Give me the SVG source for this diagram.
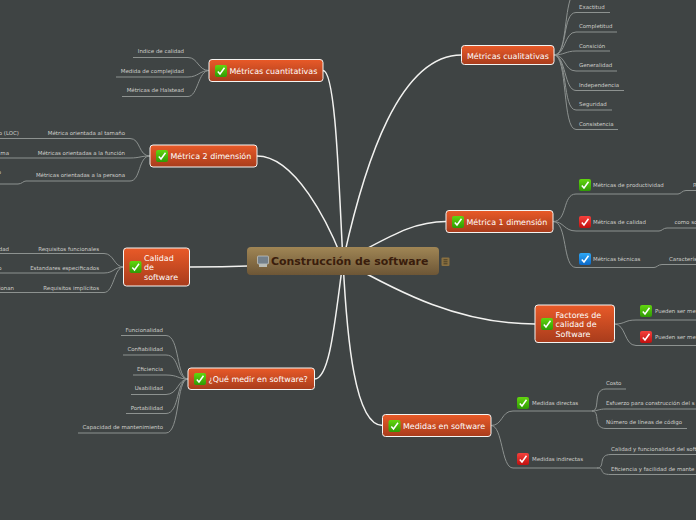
<svg xmlns="http://www.w3.org/2000/svg" xmlns:xlink="http://www.w3.org/1999/xlink" width="696" height="520" viewBox="0 0 696 520">
<style>
text{font-family:"DejaVu Sans",Verdana,sans-serif}
.n{fill:url(#og);stroke:#f4f4f2;stroke-width:1}
.t{font-size:7.950px;fill:#fff}
.l{font-size:5.450px;fill:#cfcfcb}
.e{text-anchor:end}
.main{fill:none;stroke:#f2f2f0;stroke-width:1.500}
.sub{fill:none;stroke:#8d9290;stroke-width:1}
</style>
<defs>
<linearGradient id="og" x1="0" y1="0" x2="0" y2="1"><stop offset="0" stop-color="#e95a28"/><stop offset="1" stop-color="#a83c1c"/></linearGradient>
<linearGradient id="br" x1="0" y1="0" x2="0" y2="1"><stop offset="0" stop-color="#a08655"/><stop offset="1" stop-color="#6d5636"/></linearGradient>
<linearGradient id="gg" x1="0" y1="0" x2="0" y2="1"><stop offset="0" stop-color="#62d60e"/><stop offset="1" stop-color="#2f9a05"/></linearGradient>
<linearGradient id="rg" x1="0" y1="0" x2="0" y2="1"><stop offset="0" stop-color="#f5413c"/><stop offset="1" stop-color="#c0100f"/></linearGradient>
<linearGradient id="bg" x1="0" y1="0" x2="0" y2="1"><stop offset="0" stop-color="#2fa8f5"/><stop offset="1" stop-color="#0a68c8"/></linearGradient>
<g id="ck"><path d="M2.800,6.500 L5,9 L9.500,2.800" fill="none" stroke="#fff" stroke-width="1.500"/></g>
<g id="green"><rect width="12" height="12" rx="2" fill="url(#gg)"/><use xlink:href="#ck"/></g>
<g id="red"><rect width="12" height="12" rx="2" fill="url(#rg)"/><use xlink:href="#ck"/></g>
<g id="blue"><rect width="12" height="12" rx="2" fill="url(#bg)"/><use xlink:href="#ck"/></g>
</defs>
<rect width="696" height="520" fill="#3f4444"/>
<g id="connectors">
<path class="main" d="M343,261 C339,190 336,70.500 323,70.500"/>
<path class="main" d="M343,261 C328,222 295,156 257,156"/>
<path class="main" d="M343,261 C260,267 220,267 189.500,267"/>
<path class="main" d="M343,261 C335,320 330,379 314.500,379"/>
<path class="main" d="M343,261 C365,160 400,55 461.500,55"/>
<path class="main" d="M343,261 C385,240 410,221.500 446,221.500"/>
<path class="main" d="M343,261 C400,293 460,324 535,324"/>
<path class="main" d="M343,261 C347,340 355,425.500 382.500,425.500"/>
<g>
<path class="sub" d="M209,70.500 C198,70.500 198,57.500 188,57.500 H133"/>
<path class="sub" d="M209,70.500 C200,70.500 198,77 188,77 H116"/>
<path class="sub" d="M209,70.500 C198,70.500 198,96.500 188,96.500 H122"/>
<path class="sub" d="M150,156 C138,156 141,138.500 130,138.500 H0"/>
<path class="sub" d="M150,156 C140,156 140,158 130,158 H0"/>
<path class="sub" d="M150,156 C138,156 141,181 130,181 H26 C23,181 22,184 18,184 H0"/>
<path class="sub" d="M123.500,267 C114,267 114,253.500 104,253.500 H0"/>
<path class="sub" d="M123.500,267 C114,267 114,273 104,273 H0"/>
<path class="sub" d="M123.500,267 C114,267 114,292.500 104,292.500 H0"/>
<path class="sub" d="M188,379 C176,379 180,335.500 166,335.500 H121"/>
<path class="sub" d="M188,379 C176,379 180,355 166,355 H123"/>
<path class="sub" d="M188,379 C178,379 178,375 166,375 H133"/>
<path class="sub" d="M188,379 C178,379 178,394.500 166,394.500 H131"/>
<path class="sub" d="M188,379 C176,379 180,413.500 166,413.500 H126"/>
<path class="sub" d="M188,379 C176,379 180,433 166,433 H78"/>
<path class="sub" d="M554,55 C566,55 564,20 570,0"/>
<path class="sub" d="M554,55 C568,55 562,12.500 576,12.500 H610"/>
<path class="sub" d="M554,55 C566,55 564,32 576,32 H617"/>
<path class="sub" d="M554,55 C564,55 566,51 576,51 H610"/>
<path class="sub" d="M554,55 C566,55 564,71 576,71 H617"/>
<path class="sub" d="M554,55 C566,55 564,90.500 576,90.500 H624"/>
<path class="sub" d="M554,55 C568,55 562,110 576,110 H612"/>
<path class="sub" d="M554,55 C568,55 562,129.500 576,129.500 H618"/>
<path class="sub" d="M553,221.500 C568,221.500 562,194 576,194 H678 C681,194 682,190.500 686,190.500 H696"/>
<path class="sub" d="M553,221.500 C564,221.500 564,231 576,231 H659 C662,231 663,228 667,228 H696"/>
<path class="sub" d="M553,221.500 C568,221.500 562,267.500 576,267.500 H654 C657,267.500 658,264.500 662,264.500 H696"/>
<path class="sub" d="M614.500,324 C626,324 624,320 636,320 H696"/>
<path class="sub" d="M614.500,324 C626,324 624,345.500 636,345.500 H696"/>
<path class="sub" d="M491,425.500 C503,425.500 501,411 513,411 H582"/>
<path class="sub" d="M491,425.500 C503,425.500 501,468 513,468 H597"/>
<path class="sub" d="M592,411 C601,411 592,389 606,389 H626"/>
<path class="sub" d="M582,411 H592 C598,411 598,409 606,409 H696"/>
<path class="sub" d="M592,411 C601,411 592,428.500 606,428.500 H687"/>
<path class="sub" d="M597,468 C606,468 597,454.500 611,454.500 H696"/>
<path class="sub" d="M597,468 C606,468 597,474.500 611,474.500 H696"/>
</g>
</g>
<g id="central">
<rect x="247" y="247" width="192" height="28" rx="4" fill="url(#br)"/>
<rect x="257.500" y="256" width="11" height="8" rx="1" fill="#74808a" stroke="#d5d8d8" stroke-width="0.600"/>
<rect x="259" y="264" width="8" height="3" fill="#b9bcb6"/>
<text x="271" y="265" font-size="10.950" font-weight="bold" fill="#3a1d0c">Construcción de software</text>
<rect x="441.500" y="257.500" width="8" height="8.500" rx="1" fill="#8a7040"/>
<path d="M443.500,259.800 H447.500 M443.500,261.800 H447.500 M443.500,263.800 H447.500" stroke="#2d2a1e" stroke-width="0.700"/>
</g>
<g id="n-cuant"><rect class="n" x="209" y="59.500" width="114" height="22" rx="3"/><use xlink:href="#green" x="215" y="65"/><text class="t" x="229.500" y="74">Métricas cuantitativas</text></g>
<g id="n-m2"><rect class="n" x="150" y="145" width="107" height="22" rx="3"/><use xlink:href="#green" x="156" y="150"/><text class="t" x="170.500" y="159">Métrica 2 dimensión</text></g>
<g id="n-calidad"><rect class="n" x="123.500" y="248" width="66" height="38" rx="3"/><use xlink:href="#green" x="129.500" y="261"/><text class="t" x="144" y="261">Calidad</text><text class="t" x="144" y="270">de</text><text class="t" x="144" y="280">software</text></g>
<g id="n-medir"><rect class="n" x="188" y="368" width="126.500" height="21.500" rx="3"/><use xlink:href="#green" x="194" y="373"/><text class="t" x="208.500" y="382">¿Qué medir en software?</text></g>
<g id="n-cual"><rect class="n" x="461.500" y="45.500" width="92.500" height="19" rx="3"/><text class="t" x="467" y="59">Métricas cualitativas</text></g>
<g id="n-m1"><rect class="n" x="446" y="210.500" width="107" height="22" rx="3"/><use xlink:href="#green" x="452" y="216"/><text class="t" x="466.500" y="225">Métrica 1 dimensión</text></g>
<g id="n-factores"><rect class="n" x="535" y="305" width="79.500" height="37.500" rx="3"/><use xlink:href="#green" x="541" y="318"/><text class="t" x="555.500" y="318">Factores de</text><text class="t" x="555.500" y="327">calidad de</text><text class="t" x="555.500" y="337">Software</text></g>
<g id="n-medidas"><rect class="n" x="382.500" y="414.500" width="108.500" height="22" rx="3"/><use xlink:href="#green" x="388.500" y="420"/><text class="t" x="403" y="429">Medidas en software</text></g>
<g id="leaves">
<text class="l e" x="184" y="53">Indice de calidad</text>
<text class="l e" x="184" y="73">Medida de complejidad</text>
<text class="l e" x="184" y="92">Métricas de Halstead</text>
<text class="l e" x="125" y="135">Métrica orientada al tamaño</text>
<text class="l e" x="125" y="154.500">Métricas orientadas a la función</text>
<text class="l e" x="125" y="177">Métricas orientadas a la persona</text>
<text class="l e" x="19" y="135">o (LOC)</text>
<text class="l e" x="9" y="154.500">ma</text>
<text class="l e" x="1" y="174">o</text>
<text class="l e" x="99" y="250.500">Requisitos funcionales</text>
<text class="l e" x="99" y="269.500">Estandares especificados</text>
<text class="l e" x="99" y="289.500">Requisitos implícitos</text>
<text class="l e" x="9" y="250.500">dad</text>
<text class="l e" x="1.500" y="269.500">o</text>
<text class="l e" x="14" y="289.500">ionan</text>
<text class="l e" x="163" y="332">Funcionalidad</text>
<text class="l e" x="163" y="351">Confiabilidad</text>
<text class="l e" x="163" y="371">Eficiencia</text>
<text class="l e" x="163" y="390">Usabilidad</text>
<text class="l e" x="163" y="410">Portabilidad</text>
<text class="l e" x="163" y="429">Capacidad de mantenimiento</text>
<text class="l" x="579" y="9">Exactitud</text>
<text class="l" x="579" y="28">Completitud</text>
<text class="l" x="579" y="48">Consición</text>
<text class="l" x="579" y="67">Generalidad</text>
<text class="l" x="579" y="87">Independencia</text>
<text class="l" x="579" y="106">Seguridad</text>
<text class="l" x="579" y="126">Consistencia</text>
<use xlink:href="#green" x="579" y="179"/><text class="l" x="593" y="187">Métricas de productividad</text><text class="l" x="693" y="187">R</text>
<use xlink:href="#red" x="579" y="216"/><text class="l" x="593" y="224">Métricas de calidad</text><text class="l" x="674.500" y="224">como so</text>
<use xlink:href="#blue" x="579" y="253"/><text class="l" x="593" y="261">Métricas técnicas</text><text class="l" x="669" y="261">Característ</text>
<use xlink:href="#green" x="640" y="305"/><text class="l" x="655" y="313">Pueden ser me</text>
<use xlink:href="#red" x="640" y="331"/><text class="l" x="655" y="339">Pueden ser me</text>
<use xlink:href="#green" x="517" y="397"/><text class="l" x="532" y="405">Medidas directas</text>
<use xlink:href="#red" x="517" y="453"/><text class="l" x="532" y="461">Medidas indirectas</text>
<text class="l" x="606" y="385">Costo</text>
<text class="l" x="606" y="405">Esfuerzo para construcción del s</text>
<text class="l" x="606" y="424">Número de líneas de código</text>
<text class="l" x="611" y="451">Calidad y funcionalidad del soft</text>
<text class="l" x="611" y="471">Eficiencia y facilidad de mante</text>
</g>
</svg>
